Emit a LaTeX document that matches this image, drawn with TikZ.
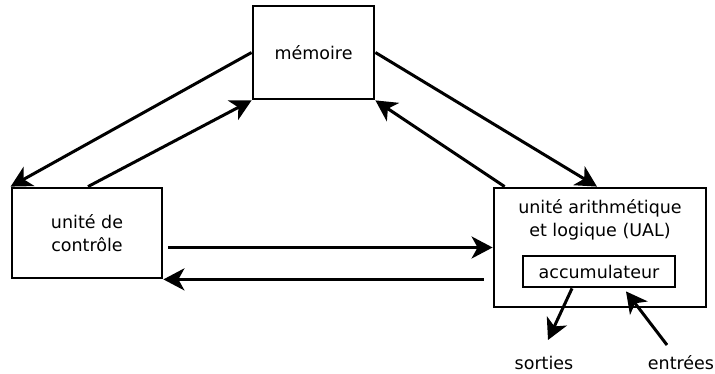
\documentclass[tikz,border=0pt]{standalone}
\usepackage{fontspec}
\setmainfont{DejaVu Sans}
\usetikzlibrary{arrows.meta}

\begin{document}
\begin{tikzpicture}[x=1pt,y=1pt,
  box/.style={draw,line width=2.8pt,inner sep=0pt},
  arr/.style={-{Stealth[length=21pt,width=22pt,inset=6pt]},line width=3pt},
  every node/.style={font=\fontsize{17.5}{23}\selectfont,align=center}]
\useasboundingbox (0,0) rectangle (715,374);

\node [box,minimum width=121,minimum height=93] (memoire) at (313.5,321.5) {mémoire};
\node [box,minimum width=150,minimum height=90] (control) at (87,141) {unité de\\contrôle};
\node [box,minimum width=212,minimum height=119] (ual) at (600,126.5) {};
\node (ualtxt) at (600,154) {unité arithmétique\\et logique (UAL)};
\node [box,minimum width=152,minimum height=31] (acc) at (599,102.5) {accumulateur};
\node (sorties) at (544,11) {sorties}; \node (entrees) at (681,11) {entrées};
\coordinate (sout) at (548,34); \coordinate (ein) at (667,29);

\draw [arr] (memoire.west) -- (control.north west);
\draw [arr] ([xshift=1pt]control.north) -- (memoire.south west);
\draw [arr] (memoire.east) -- ([xshift=-3pt]ual.north);
\draw [arr] ([xshift=12pt]ual.north west) -- (memoire.south east);

\draw [arr,shorten <=5pt] (control.east |- ual.west) -- (ual.west);
\draw [arr,shorten <=9pt] (ual.west |- control.south east) -- (control.south east);

\draw [arr] ([xshift=-27pt]acc.south) -- (sout);
\draw [arr] (ein) -- ([xshift=27pt,yshift=-3pt]acc.south);
\end{tikzpicture}
\end{document}
